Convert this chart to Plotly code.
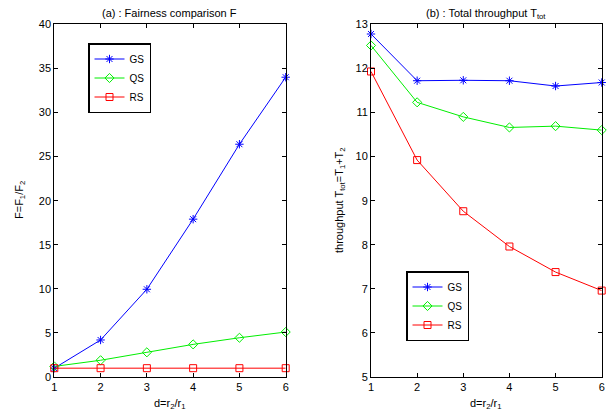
import plotly.graph_objects as go

d = [1, 2, 3, 4, 5, 6]
fair_gs = [1.0, 4.2, 9.95, 17.9, 26.4, 34.0]
fair_qs = [1.2, 1.9, 2.8, 3.7, 4.45, 5.1]
fair_rs = [1.0, 1.0, 1.0, 1.0, 1.0, 1.0]
thr_gs = [12.78, 11.72, 11.73, 11.72, 11.60, 11.68]
thr_qs = [12.52, 11.23, 10.90, 10.66, 10.69, 10.60]
thr_rs = [11.93, 9.92, 8.76, 7.96, 7.38, 6.96]

names = ["GS", "QS", "RS"]
colors = ["#0000ff", "#00ee00", "#ff0000"]
symbols = ["asterisk-open", "diamond-open", "square-open"]
W, H = 608, 414
FONT = "Liberation Sans, Arial, sans-serif"

fig = go.Figure()
for series, xa, ya, leg in [
    ([fair_gs, fair_qs, fair_rs], "x", "y", "legend"),
    ([thr_gs, thr_qs, thr_rs], "x2", "y2", "legend2"),
]:
    for name, vals, c, s in zip(names, series, colors, symbols):
        fig.add_trace(go.Scatter(
            x=d, y=vals, name=name, mode="lines+markers",
            line=dict(color=c, width=1),
            marker=dict(symbol=s, size=7, color=c, line=dict(color=c, width=1)),
            xaxis=xa, yaxis=ya, legend=leg, cliponaxis=False,
        ))

def px_x(p):
    return p / W

def px_y(p):
    return 1 - p / H

ax_common = dict(
    showgrid=False, zeroline=False, showline=True, linecolor="black", linewidth=1,
    mirror="ticks", ticks="inside", ticklen=4, tickcolor="black",
    tickfont=dict(size=11, color="black", family=FONT),
)

fig.update_layout(
    width=W, height=H, margin=dict(l=0, r=0, t=0, b=0, autoexpand=False),
    paper_bgcolor="white", plot_bgcolor="white",
    font=dict(family=FONT, size=11, color="black"),
    xaxis=dict(domain=[px_x(54.3), px_x(285.7)], range=[1, 6], tickvals=d,
               anchor="y", **ax_common),
    yaxis=dict(domain=[px_y(377), px_y(24.3)], range=[0, 40],
               tickvals=[0, 5, 10, 15, 20, 25, 30, 35, 40], anchor="x", **ax_common),
    xaxis2=dict(domain=[px_x(371), px_x(601.7)], range=[1, 6], tickvals=d,
                anchor="y2", **ax_common),
    yaxis2=dict(domain=[px_y(377), px_y(24.3)], range=[5, 13],
                tickvals=[5, 6, 7, 8, 9, 10, 11, 12, 13], anchor="x2", **ax_common),
    legend=dict(x=px_x(88), y=px_y(43), xanchor="left", yanchor="top",
                bordercolor="black", borderwidth=1.5, bgcolor="white",
                font=dict(size=10, family=FONT), tracegroupgap=0, itemwidth=30),
    legend2=dict(x=px_x(406), y=px_y(271), xanchor="left", yanchor="top",
                 bordercolor="black", borderwidth=1.5, bgcolor="white",
                 font=dict(size=10, family=FONT), tracegroupgap=0, itemwidth=30),
    showlegend=True,
)

def note(text, x, y, angle=0):
    fig.add_annotation(text=text, x=x, y=y, xref="paper", yref="paper",
                       xanchor="center", yanchor="middle", showarrow=False,
                       textangle=angle, font=dict(size=11, family=FONT))

note("(a) : Fairness comparison F", (px_x(54.3) + px_x(285.7)) / 2, px_y(13))
note("(b) : Total throughput T<sub>tot</sub>", (px_x(371) + px_x(601.7)) / 2, px_y(14))
note("d=r<sub>2</sub>/r<sub>1</sub>", (px_x(54.3) + px_x(285.7)) / 2, px_y(404))
note("d=r<sub>2</sub>/r<sub>1</sub>", (px_x(371) + px_x(601.7)) / 2, px_y(404))
note("F=F<sub>1</sub>/F<sub>2</sub>", px_x(20), px_y(200), -90)
note("throughput T<sub>tot</sub>=T<sub>1</sub>+T<sub>2</sub>", px_x(340), px_y(200), -90)

fig.write_html("out.html")
